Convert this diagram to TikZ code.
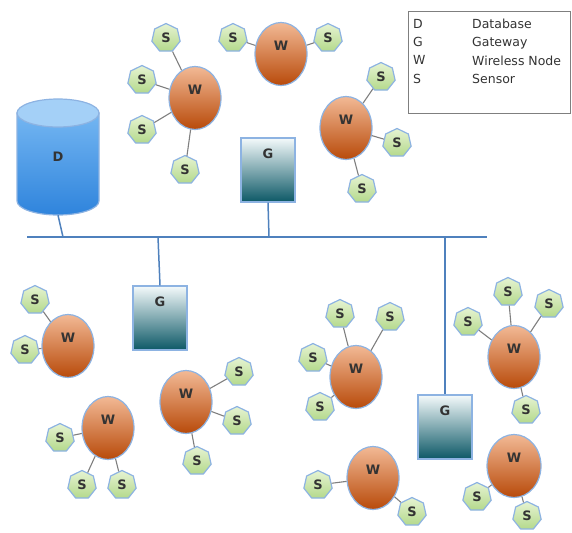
\documentclass[tikz,border=0pt]{standalone}
\usepackage{fontspec}
\setmainfont{DejaVu Sans}
\usepackage{xcolor}
\usepackage{tikz}
\usetikzlibrary{calc, shapes.geometric, positioning}

\definecolor{edgeblue}{HTML}{8DB3E2}
\definecolor{busblue}{HTML}{4F81BD}
\definecolor{wtop}{HTML}{F2B995}
\definecolor{wbot}{HTML}{B84A0A}
\definecolor{stop}{HTML}{E6F3D2}
\definecolor{sbot}{HTML}{B4D98C}
\definecolor{gtop}{HTML}{F4FAFB}
\definecolor{gbot}{HTML}{0C5866}
\definecolor{dbtop}{HTML}{A4D0F7}
\definecolor{dbhi}{HTML}{74B6F2}
\definecolor{dblo}{HTML}{2F84DC}
\definecolor{linkgray}{HTML}{7F7F7F}
\definecolor{labelgray}{HTML}{333333}

\begin{document}
\begin{tikzpicture}[x=1pt, y=-1pt,
    wnode/.style={ellipse, draw=edgeblue, line width=1.2pt, top color=wtop, bottom color=wbot,
        minimum width=52pt, minimum height=63pt, inner sep=0pt,
        text=labelgray, font=\bfseries\fontsize{13}{13}\selectfont, text height=9pt, text depth=16pt},
    snode/.style={regular polygon, regular polygon sides=7, draw=edgeblue, line width=1.2pt,
        top color=stop, bottom color=sbot, minimum size=29pt, inner sep=0pt,
        text=labelgray, font=\bfseries\fontsize{13}{13}\selectfont},
    gwnode/.style={rectangle, draw=edgeblue, line width=1.2pt, top color=gtop, bottom color=gbot,
        minimum width=54pt, minimum height=64pt, inner sep=0pt,
        text=labelgray, font=\bfseries\fontsize{13}{13}\selectfont, text height=9pt, text depth=33pt},
    link/.style={draw=linkgray, line width=1.1pt},
    bus/.style={draw=busblue, line width=1.8pt},
    tap/.style={draw=busblue, line width=1.5pt}]

    \useasboundingbox (0,0) rectangle (572,532);

    % =================================================================
    % 1. LEGEND
    % =================================================================
    \node[draw=linkgray, line width=1pt, anchor=north west, minimum width=162pt,
        minimum height=102pt, inner sep=0pt] (legend) at (408,11) {};
    \node[anchor=north west, align=left, inner sep=0pt, text=labelgray,
        font=\fontsize{12.5}{18.3}\selectfont] (keys) at (413,19) {D\\G\\W\\S};
    \node[anchor=north west, align=left, inner sep=0pt, text=labelgray,
        font=\fontsize{12.5}{18.3}\selectfont] (names) at (472,19)
        {Database\\Gateway\\Wireless Node\\Sensor};

    % =================================================================
    % 2. DATABASE (CYLINDER)
    % =================================================================
    \shade[top color=dbhi, bottom color=dblo, draw=edgeblue, line width=1.2pt]
        (17,113) -- (17,201) arc[start angle=180, end angle=0, x radius=41, y radius=14]
        -- (99,113) -- cycle;
    \filldraw[fill=dbtop, draw=edgeblue, line width=1.2pt] (58,113) ellipse[x radius=41, y radius=14];
    \node[minimum width=82pt, minimum height=116pt, inner sep=0pt, text=labelgray,
        font=\bfseries\fontsize{13}{13}\selectfont] (db) at (58,157) {D};

    % =================================================================
    % 3. BUS AND GATEWAYS
    % =================================================================
    \coordinate (busL) at (27,237);
    \coordinate (busR) at (487,237);
    \coordinate (tapD) at (63,237);
    \coordinate (tapG1) at (269,237);
    \coordinate (tapG2) at (158,237);
    \coordinate (tapG3) at (445,237);

    \draw[bus] (busL) -- (busR);

    \node[gwnode] (g1) at (268,170) {G};
    \node[gwnode] (g2) at (160,318) {G};
    \node[gwnode] (g3) at (445,427) {G};

    \draw[tap] (db.south) -- (tapD);
    \draw[tap] (g1.south) -- (tapG1);
    \draw[tap] (tapG2) -- (g2.north);
    \draw[tap] (tapG3) -- (g3.north);

    % =================================================================
    % 4. WIRELESS NODES
    % =================================================================
    \node[wnode] (w1) at (195,98) {W};
    \node[wnode] (w2) at (281,54) {W};
    \node[wnode] (w3) at (346,128) {W};
    \node[wnode] (w4) at (68,346) {W};
    \node[wnode] (w5) at (108,428) {W};
    \node[wnode] (w6) at (186,402) {W};
    \node[wnode] (w7) at (356,377) {W};
    \node[wnode] (w8) at (514,357) {W};
    \node[wnode] (w9) at (373,478) {W};
    \node[wnode, minimum width=54pt] (w10) at (514,466) {W};

    % =================================================================
    % 5. SENSORS
    % =================================================================
    \node[snode] (s1a) at (166,38) {S};
    \node[snode] (s1b) at (142,80) {S};
    \node[snode] (s1c) at (142,130) {S};
    \node[snode] (s1d) at (185,170) {S};

    \node[snode] (s2a) at (233,38) {S};
    \node[snode] (s2b) at (328,38) {S};

    \node[snode] (s3a) at (381,77) {S};
    \node[snode] (s3b) at (397,143) {S};
    \node[snode] (s3c) at (362,189) {S};

    \node[snode] (s4a) at (35,300) {S};
    \node[snode] (s4b) at (25,350) {S};

    \node[snode] (s5a) at (60,438) {S};
    \node[snode] (s5b) at (82,485) {S};
    \node[snode] (s5c) at (122,485) {S};

    \node[snode] (s6a) at (239,372) {S};
    \node[snode] (s6b) at (237,421) {S};
    \node[snode] (s6c) at (197,461) {S};

    \node[snode] (s7a) at (340,314) {S};
    \node[snode] (s7b) at (390,317) {S};
    \node[snode] (s7c) at (313,358) {S};
    \node[snode] (s7d) at (320,407) {S};

    \node[snode] (s8a) at (508,292) {S};
    \node[snode] (s8b) at (549,304) {S};
    \node[snode] (s8c) at (468,322) {S};
    \node[snode] (s8d) at (526,410) {S};

    \node[snode] (s9a) at (318,485) {S};
    \node[snode] (s9b) at (412,512) {S};

    \node[snode] (s10a) at (477,497) {S};
    \node[snode] (s10b) at (527,516) {S};

    % =================================================================
    % 6. SENSOR LINKS
    % =================================================================
    \foreach \s/\w in {s1a/w1, s1b/w1, s1c/w1, s1d/w1, s2a/w2, s2b/w2,
        s3a/w3, s3b/w3, s3c/w3, s4a/w4, s4b/w4, s5a/w5, s5b/w5, s5c/w5,
        s6a/w6, s6b/w6, s6c/w6, s7a/w7, s7b/w7, s7c/w7, s7d/w7,
        s8a/w8, s8b/w8, s8c/w8, s8d/w8, s9a/w9, s9b/w9, s10a/w10, s10b/w10}
        \draw[link] (\s) -- (\w);

\end{tikzpicture}
\end{document}
